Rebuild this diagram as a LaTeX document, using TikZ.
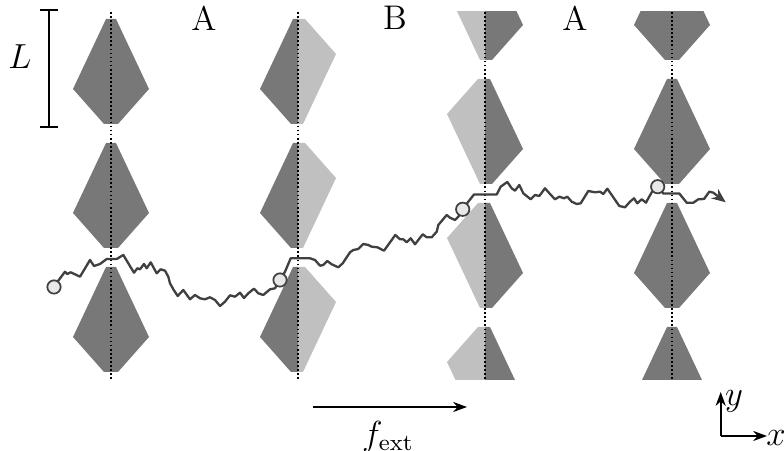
\documentclass[tikz,border=0pt]{standalone}
\usetikzlibrary{arrows.meta}
\definecolor{kdark}{RGB}{120,120,120}
\definecolor{klight}{RGB}{192,192,192}
\definecolor{walkc}{RGB}{64,64,64}
\definecolor{ballc}{RGB}{232,232,232}
% half kites: normal (N) or vertically flipped (F), left (L) or right (R)
\newcommand\hkLN[3]{\fill[#3] (#1,#2) -- (#1-5,#2) -- (#1-38,#2+70) -- (#1-7,#2+105) -- (#1,#2+105) -- cycle;}
\newcommand\hkRN[3]{\fill[#3] (#1,#2) -- (#1+5,#2) -- (#1+38,#2+70) -- (#1+7,#2+105) -- (#1,#2+105) -- cycle;}
\newcommand\hkLF[3]{\fill[#3] (#1,#2) -- (#1-7,#2) -- (#1-38,#2+35) -- (#1-5,#2+105) -- (#1,#2+105) -- cycle;}
\newcommand\hkRF[3]{\fill[#3] (#1,#2) -- (#1+7,#2) -- (#1+38,#2+35) -- (#1+5,#2+105) -- (#1,#2+105) -- cycle;}
\tikzset{
  axisline/.style={line width=0.6pt, dash pattern=on 0.6pt off 0.8pt},
  walk/.style={walkc, line width=0.8pt, line join=round},
  ball/.style={circle, draw=walkc, fill=ballc, line width=0.6pt, minimum size=4.6pt, inner sep=0pt},
  lab/.style={inner sep=0pt, font=\fontsize{11.8}{14}\selectfont},
  arr/.style={line width=0.55pt, -{Stealth[length=4.8pt,width=3.5pt]}}
}
\begin{document}
\begin{tikzpicture}[x=0.345pt, y=-0.345pt]
\useasboundingbox (0,0) rectangle (784,451);
% kites, clipped to the strip
\begin{scope}
\clip (0,12) rectangle (784,380);
\foreach \t in {19,143,267}{
  \hkLN{111}{\t}{kdark}\hkRN{111}{\t}{kdark}
  \hkLN{298}{\t}{kdark}\hkRF{298}{\t}{klight}
}
\foreach \t in {-45,79,203,327}{
  \hkLF{485}{\t}{klight}\hkRN{485}{\t}{kdark}
  \hkLN{672}{\t}{kdark}\hkRN{672}{\t}{kdark}
}
\end{scope}
% dotted axes
\foreach \x in {111,298,485,672}{
  \draw[axisline] (\x,12) -- (\x,379);
}
% length bar
\coordinate (Lt) at (49,10);
\coordinate (Lb) at (49,127);
\draw[line width=0.7pt] (Lt) -- (Lb);
\draw[line width=0.7pt] ([xshift=-3pt]Lt) -- ([xshift=3pt]Lt);
\draw[line width=0.7pt] ([xshift=-3pt]Lb) -- ([xshift=3pt]Lb);
\node[lab] (Ll) at (20,57) {$L$};
% labels
\node[lab] (A1) at (204,18) {A};
\node[lab] (B1) at (395,18) {B};
\node[lab] (A2) at (575,18) {A};
% walk
\coordinate (p1) at (54,287);
\coordinate (p2) at (280,280);
\coordinate (p3) at (462.7,209.3);
\coordinate (p4) at (657.7,186.7);
\coordinate (pe) at (725.7,202.3);
\draw[walk] (p1) -- (58.3,280.7) -- (65,271.7) -- (67.3,274) -- (70.7,272.3) -- (75,274.3) -- (80,276.7) -- (90,260) -- (94,266) -- (100,264) -- (106.7,259) -- (116.7,259) -- (123.3,255) -- (129.3,265) -- (134,272.7) -- (137.3,268.3) -- (140,269.3) -- (144,264) -- (146.7,268.3) -- (150.7,262.3) -- (156.7,273.3) -- (160.7,269.3) -- (165,270.7) -- (168.3,276.7) -- (170,283.3) -- (173.3,289.3) -- (177.7,296) -- (183.3,290) -- (190,299.3) -- (195,295) -- (200,298.3) -- (205,299.3) -- (210,297.3) -- (215,300) -- (220,306) -- (225,301.7) -- (230,295.3) -- (235,296.7) -- (240,292.7) -- (244,298) -- (248.3,293.3) -- (254,288.7) -- (258.3,293.3) -- (263.3,295) -- (270,289.3) -- (275,288.3) -- (p2);
\draw[walk] (p2) -- (285,271.7) -- (290.7,258.3) -- (310,258.3) -- (315,260) -- (320,265.7) -- (323.3,265) -- (327.3,261) -- (331.7,264.3) -- (338.3,267.3) -- (342.7,263.3) -- (350,252.3) -- (353.3,250) -- (358.3,249) -- (363.3,244) -- (368.3,245) -- (371.7,246.7) -- (377.3,247.3) -- (384,250.7) -- (389.3,243.3) -- (395.3,235) -- (400,239.3) -- (403.3,239.3) -- (406.7,242.3) -- (410.7,238.3) -- (415,244.3) -- (422.7,234.3) -- (426.7,237.3) -- (431.7,237.3) -- (436.7,231.7) -- (438.3,225) -- (446.7,215) -- (450,217.7) -- (455,220) -- (458.3,216.7) -- (p3);
\draw[walk] (p3) -- (468.3,201.7) -- (474,194.5) -- (496.7,194.5) -- (500.7,186.7) -- (507.3,182) -- (511.7,188.3) -- (515,190.7) -- (519.3,185) -- (523.3,193.3) -- (530.7,199.3) -- (535,195) -- (539.3,196) -- (545,188.3) -- (550,194) -- (555,199.3) -- (559.3,196.7) -- (564,198.3) -- (567.3,196.7) -- (571.7,201.7) -- (576.7,204) -- (580.7,203.3) -- (588.3,191) -- (595,192.3) -- (600,191.7) -- (603.3,194) -- (607.3,188.7) -- (611.7,195) -- (619.3,206) -- (625,207.3) -- (630,201.7) -- (634,198.3) -- (637.3,203.3) -- (641.7,199.3) -- (646,202.7) -- (648.3,198.3) -- (651.7,192.3) -- (p4);
\draw[walk, -{Stealth[length=4.8pt,width=4pt]}] (p4) -- (663.3,193.5) -- (679.3,193.5) -- (686.7,202.7) -- (693.3,202.7) -- (698.3,199.3) -- (704,199) -- (709.3,191.7) -- (713.3,192.7) -- (pe);
\node[ball] (b1) at (p1) {};
\node[ball] (b2) at (p2) {};
\node[ball] (b3) at (p3) {};
\node[ball] (b4) at (p4) {};
% external force
\coordinate (fs) at (313,407);
\coordinate (fe) at (467,407);
\draw[arr] (fs) -- (fe);
\node[lab] (fl) at (388,437) {$f_{\mathrm{ext}}$};
% coordinate axes
\coordinate (o) at (720.7,436);
\coordinate (oy) at (720.7,392);
\coordinate (ox) at (767,436);
\draw[arr] (o) -- (oy);
\draw[arr] (o) -- (ox);
\node[lab] (ly) at (734,401) {$y$};
\node[lab] (lx) at (776,438) {$x$};
\end{tikzpicture}
\end{document}
